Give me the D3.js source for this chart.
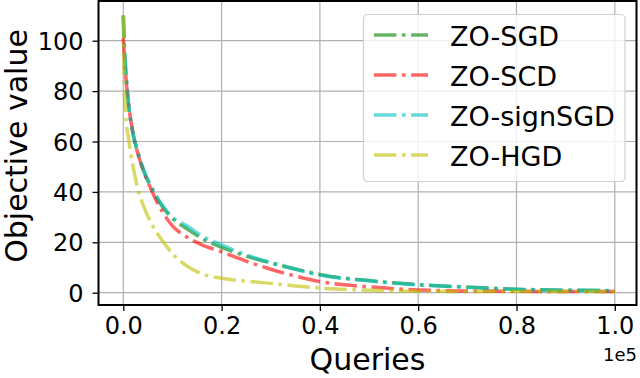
<!DOCTYPE html>
<html>
<head>
<meta charset="utf-8">
<script src="https://cdn.jsdelivr.net/npm/d3@7"></script>
<style>
  body { margin: 0; background: #fff; }
  svg { display: block; font-family: "DejaVu Sans", sans-serif; }
</style>
</head>
<body>
<div id="chart"></div>
<script>
// Queries (in units of 1e5)
const queries = [0, 0.0025, 0.005, 0.01, 0.02, 0.03, 0.04, 0.06, 0.08, 0.1, 0.13, 0.16, 0.2, 0.25, 0.3, 0.35, 0.4, 0.5, 0.6, 0.7, 0.8, 0.9, 1.0];

// Objective value of each method
const zoSGD     = [110, 96, 88, 76, 63, 55, 49, 40.5, 34, 29.5, 25.3, 21.5, 18, 14.5, 11.8, 9.4, 7.2, 4.8, 3.2, 2.2, 1.4, 1.0, 0.8];
const zoSCD     = [101, 93, 86, 76, 63, 55, 49, 39.5, 32, 26.5, 22, 19, 16.2, 12.5, 9.3, 6.6, 4.4, 2.3, 1.1, 0.7, 0.55, 0.5, 0.5];
const zoSignSGD = [110, 96, 88, 76, 63, 55.5, 49.5, 41, 34.5, 30, 26.5, 22.5, 19, 15, 12, 9.3, 7.0, 4.7, 3.1, 2.2, 1.3, 1.0, 0.8];
const zoHGD     = [110, 80, 70, 62, 50, 41, 35, 26.5, 20.5, 15.5, 10.5, 7.5, 5.7, 4.6, 3.7, 2.7, 1.8, 1.0, 0.6, 0.5, 0.5, 0.5, 0.5];

const seriesNames = ["ZO-SGD", "ZO-SCD", "ZO-signSGD", "ZO-HGD"];
const seriesValues = [zoSGD, zoSCD, zoSignSGD, zoHGD];
const seriesColors = ["#008000", "#ff0000", "#00bfbf", "#bfbf00"];

const xTicks = [0, 0.2, 0.4, 0.6, 0.8, 1.0];
const yTicks = [0, 20, 40, 60, 80, 100];

// Plot frame
const frame = {left: 98.5, right: 636.5, top: 1, bottom: 305};

const svg = d3.select("#chart")
    .append("svg")
    .attr("width", 640)
    .attr("height", 378);

const x = d3.scaleLinear().domain([0, 1]).range([123.3, 614.8]);
const y = d3.scaleLinear().domain([0, 100]).range([292.7, 40.7]);

// Grid lines
const grid = svg.append("g").attr("stroke", "#b0b0b0").attr("stroke-width", 1.2);
grid.selectAll(".vgrid")
    .data(xTicks)
    .enter()
    .append("line")
    .attr("x1", d => x(d)).attr("x2", d => x(d))
    .attr("y1", frame.top).attr("y2", frame.bottom);
grid.selectAll(".hgrid")
    .data(yTicks)
    .enter()
    .append("line")
    .attr("x1", frame.left).attr("x2", frame.right)
    .attr("y1", d => y(d)).attr("y2", d => y(d));

// Lines
const line = d3.line()
    .x((d, i) => x(queries[i]))
    .y(d => y(d))
    .curve(d3.curveMonotoneX);

const dash = "22.4,5.6,3.5,5.6";

svg.append("g")
    .selectAll(".series")
    .data(seriesValues)
    .enter()
    .append("path")
    .attr("class", "series")
    .attr("d", d => line(d))
    .attr("fill", "none")
    .attr("stroke", (d, i) => seriesColors[i])
    .attr("stroke-opacity", 0.6)
    .attr("stroke-width", 3.5)
    .attr("stroke-dasharray", dash);

// Axes (only the ticks and labels, the frame is drawn below)
const xAxis = svg.append("g")
    .attr("transform", `translate(0, ${frame.bottom})`)
    .call(d3.axisBottom(x).tickValues(xTicks).tickFormat(d3.format(".1f")).tickSize(6).tickPadding(6));
const yAxis = svg.append("g")
    .attr("transform", `translate(${frame.left}, 0)`)
    .call(d3.axisLeft(y).tickValues(yTicks).tickSize(6).tickPadding(9));

[xAxis, yAxis].forEach(a => {
    a.select(".domain").remove();
    a.selectAll(".tick line").attr("stroke", "#000").attr("stroke-width", 1.3);
    a.selectAll(".tick text")
        .attr("fill", "#000")
        .style("font-size", "24px")
        .style("font-family", "DejaVu Sans");
});
yAxis.selectAll(".tick text").attr("dy", "0.36em");

// Frame
svg.append("rect")
    .attr("x", frame.left)
    .attr("y", frame.top)
    .attr("width", frame.right - frame.left)
    .attr("height", frame.bottom - frame.top)
    .attr("fill", "none")
    .attr("stroke", "#000")
    .attr("stroke-width", 2);

// Axis labels
svg.append("text")
    .attr("x", (frame.left + frame.right) / 2)
    .attr("y", 370)
    .attr("text-anchor", "middle")
    .style("font-size", "30px")
    .text("Queries");

svg.append("text")
    .attr("transform", "rotate(-90)")
    .attr("x", -146)
    .attr("y", 27)
    .attr("text-anchor", "middle")
    .style("font-size", "30px")
    .text("Objective value");

// Offset text
svg.append("text")
    .attr("x", 637)
    .attr("y", 361)
    .attr("text-anchor", "end")
    .style("font-size", "18px")
    .text("1e5");

// Legend
const legend = svg.append("g");
legend.append("rect")
    .attr("x", 363.5)
    .attr("y", 14.5)
    .attr("width", 261.5)
    .attr("height", 167)
    .attr("rx", 4)
    .attr("fill", "#fff")
    .attr("fill-opacity", 0.8)
    .attr("stroke", "#d0d0d0")
    .attr("stroke-width", 1.2);

const legendItem = legend.selectAll(".legend")
    .data(seriesNames)
    .enter()
    .append("g")
    .attr("class", "legend")
    .attr("transform", (d, i) => `translate(0, ${35 + i * 40})`);

legendItem.append("line")
    .attr("x1", 374).attr("x2", 428)
    .attr("y1", 0).attr("y2", 0)
    .attr("stroke", (d, i) => seriesColors[i])
    .attr("stroke-opacity", 0.6)
    .attr("stroke-width", 3.5)
    .attr("stroke-dasharray", dash);

legendItem.append("text")
    .attr("x", 450)
    .attr("y", 10.5)
    .style("font-size", "27px")
    .text(d => d);
</script>
</body>
</html>
